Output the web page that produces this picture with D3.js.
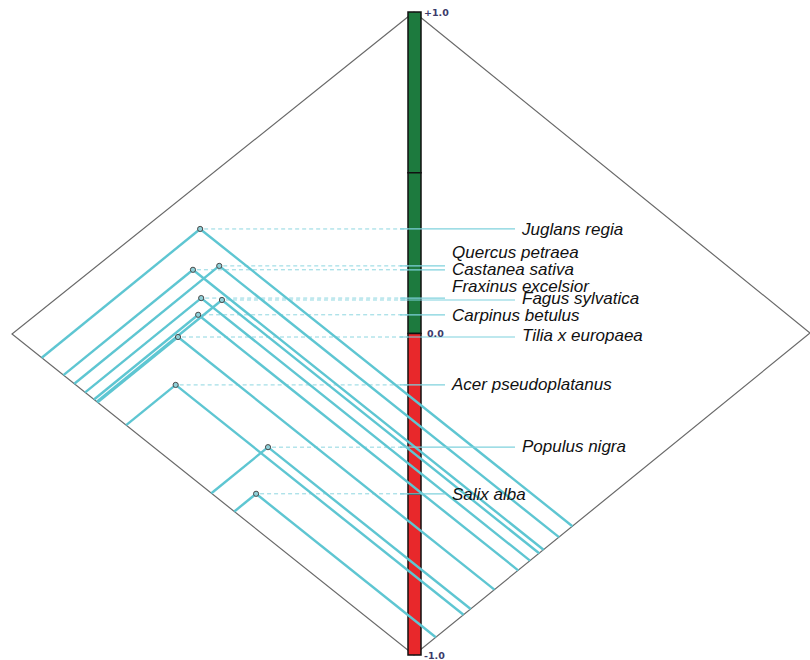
<!DOCTYPE html>
<html>
<head>
<meta charset="utf-8">
<script src="https://cdn.jsdelivr.net/npm/d3@7"></script>
<style>
  body { margin: 0; background: #fff; }
  svg { display: block; }
  .label { font-family: "Liberation Sans", Arial, sans-serif; font-style: italic; font-size: 17px; fill: #111; }
  .tick { font-family: Verdana, "DejaVu Sans", sans-serif; font-size: 9.5px; font-weight: bold; fill: #3b3b6b; }
</style>
</head>
<body>
<svg id="chart" width="810" height="660"></svg>
<script>
// species and their two scores (0..1), one per side of the diamond
const species = ["Juglans regia", "Quercus petraea", "Castanea sativa", "Fraxinus excelsior",
    "Fagus sylvatica", "Carpinus betulus", "Tilia x europaea", "Acer pseudoplatanus",
    "Populus nigra", "Salix alba"];
const scoreA = [0.400, 0.366, 0.327, 0.293, 0.316, 0.263, 0.203, 0.125, 0.143, 0.055];
const scoreB = [0.926, 0.845, 0.872, 0.818, 0.789, 0.796, 0.787, 0.716, 0.504, 0.447];

const tickValues = [1, 0, -1];
const tickLabels = ["+1.0", "0.0", "-1.0"];
const bandEdges = [1, 0.5, 0, -0.5, -1];

// label placement: column (0 near, 1 far) and baseline offset from the point
const labelCol = [1, 0, 0, 0, 1, 0, 1, 0, 1, 0];
const labelDy = [6, -8, 5, -6, 4, 6, 4, 5, 5, 6];

const svg = d3.select("#chart");

// diamond corners
const cBottom = {x: 414, y: 655}, cRight = {x: 810, y: 333}, cLeft = {x: 12, y: 334}, cTop = {x: 414, y: 12};

const ax = d3.scaleLinear().domain([0, 1]).range([0, cRight.x - cBottom.x]);
const ay = d3.scaleLinear().domain([0, 1]).range([0, cRight.y - cBottom.y]);
const bx = d3.scaleLinear().domain([0, 1]).range([0, cLeft.x - cBottom.x]);
const by = d3.scaleLinear().domain([0, 1]).range([0, cLeft.y - cBottom.y]);
const pos = (a, b) => [cBottom.x + ax(a) + bx(b), cBottom.y + ay(a) + by(b)];

const y = d3.scaleLinear().domain([-1, 1]).range([cBottom.y, cTop.y]);

const data = species.map((name, i) => {
    const [px, py] = pos(scoreA[i], scoreB[i]);
    return {name, a: scoreA[i], b: scoreB[i], px, py, col: labelCol[i], dy: labelDy[i]};
});

const lineColor = "#5ec6d2";
const barLeft = 408, barWidth = 13;
const colX = [452, 522];

// diamond outline
svg.append("path")
    .attr("d", d3.line()([[cTop.x, cTop.y], [cRight.x, cRight.y], [cBottom.x, cBottom.y], [cLeft.x, cLeft.y], [cTop.x, cTop.y]]))
    .attr("fill", "none")
    .attr("stroke", "#6a6a6a")
    .attr("stroke-width", 1.2);

// colour bar
const bar = svg.append("g");
bar.selectAll("rect")
    .data(d3.pairs(bandEdges))
    .enter()
    .append("rect")
    .attr("x", barLeft)
    .attr("y", d => y(d[0]))
    .attr("width", barWidth)
    .attr("height", d => y(d[1]) - y(d[0]))
    .attr("fill", d => d[0] > 0 ? "#1d7a3e" : "#e8282b")
    .attr("stroke", "#111")
    .attr("stroke-width", 1.5);

// dashed lines from points to the bar
svg.append("g").selectAll("line")
    .data(data)
    .enter()
    .append("line")
    .attr("x1", d => d.px + 4)
    .attr("x2", barLeft)
    .attr("y1", d => d.py)
    .attr("y2", d => d.py)
    .attr("stroke", "#8dd6e0")
    .attr("stroke-width", 1)
    .attr("stroke-dasharray", "4,3");

// projections onto the two lower edges
const proj = svg.append("g")
    .attr("stroke", lineColor)
    .attr("stroke-width", 2.4)
    .attr("fill", "none");
proj.selectAll("line.left")
    .data(data)
    .enter()
    .append("line")
    .attr("class", "left")
    .attr("x1", d => d.px)
    .attr("y1", d => d.py)
    .attr("x2", d => pos(0, d.b)[0])
    .attr("y2", d => pos(0, d.b)[1]);
proj.selectAll("line.right")
    .data(data)
    .enter()
    .append("line")
    .attr("class", "right")
    .attr("x1", d => d.px)
    .attr("y1", d => d.py)
    .attr("x2", d => pos(d.a, 0)[0])
    .attr("y2", d => pos(d.a, 0)[1]);

// leader lines to labels
svg.append("g").selectAll("line")
    .data(data)
    .enter()
    .append("line")
    .attr("x1", 400)
    .attr("x2", d => colX[d.col] - 7)
    .attr("y1", d => d.py)
    .attr("y2", d => d.py)
    .attr("stroke", "#7fd2dd")
    .attr("stroke-width", 1.2);

// points
svg.append("g").selectAll("circle")
    .data(data)
    .enter()
    .append("circle")
    .attr("cx", d => d.px)
    .attr("cy", d => d.py)
    .attr("r", 2.6)
    .attr("fill", "#8fd0d8")
    .attr("stroke", "#4a4a4a")
    .attr("stroke-width", 1);

// species labels
svg.append("g").selectAll("text")
    .data(data)
    .enter()
    .append("text")
    .attr("class", "label")
    .attr("x", d => colX[d.col])
    .attr("y", d => d.py + d.dy)
    .text(d => d.name);

// scale labels
svg.append("g").selectAll("text")
    .data(tickValues)
    .enter()
    .append("text")
    .attr("class", "tick")
    .attr("x", (d, i) => i === 1 ? 427 : 424)
    .attr("y", (d, i) => y(d) + (i === 1 ? 3 : 4))
    .text((d, i) => tickLabels[i]);
</script>
</body>
</html>
